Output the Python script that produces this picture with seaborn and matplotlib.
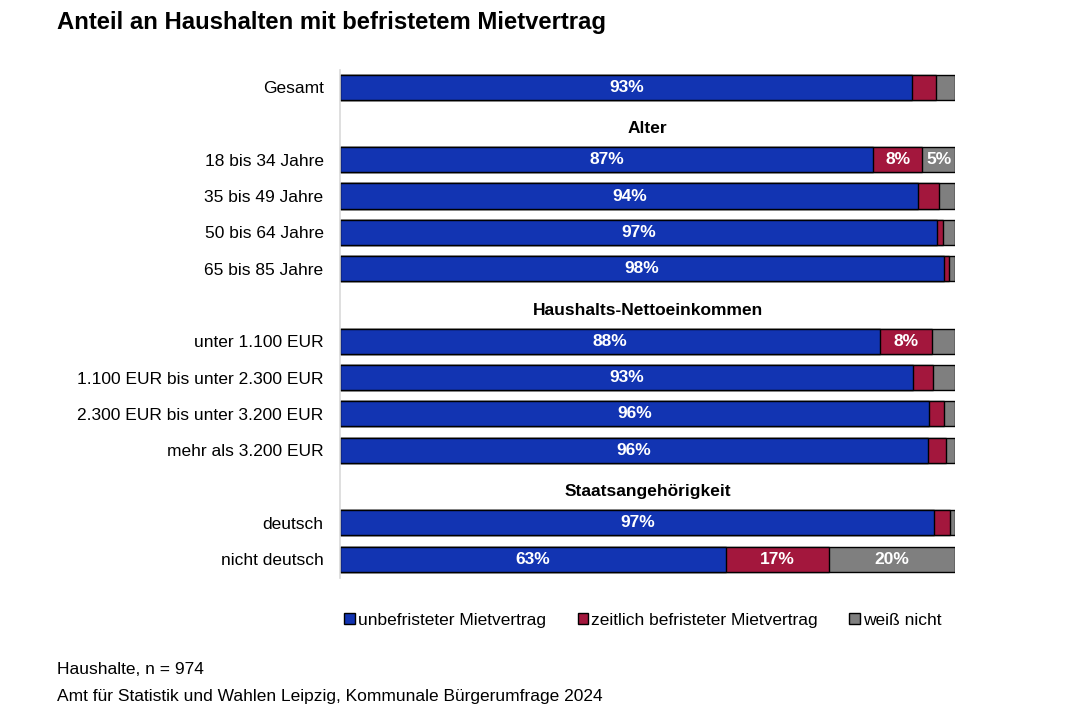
import numpy as np
import pandas as pd
import matplotlib
matplotlib.use('Agg')
import matplotlib.pyplot as plt
from matplotlib.patches import Patch
import seaborn as sns

sns.set_style('white')
plt.rcParams['font.family'] = ['Liberation Sans', 'DejaVu Sans']
plt.rcParams['text.color'] = 'black'
plt.rcParams['ytick.color'] = 'black'
plt.rcParams['ytick.labelcolor'] = 'black'

# ==================== Daten ====================
kategorien = ['Gesamt', '18 bis 34 Jahre', '35 bis 49 Jahre', '50 bis 64 Jahre', '65 bis 85 Jahre',
              'unter 1.100 EUR', '1.100 EUR bis unter 2.300 EUR', '2.300 EUR bis unter 3.200 EUR',
              'mehr als 3.200 EUR', 'deutsch', 'nicht deutsch']
unbefristet = [93.0, 86.7, 94.0, 97.0, 98.2, 87.8, 93.2, 95.8, 95.6, 96.6, 62.7]
befristet = [3.9, 7.9, 3.4, 1.0, 0.7, 8.4, 3.2, 2.4, 2.9, 2.6, 16.8]
weiss_nicht = [3.1, 5.4, 2.6, 2.0, 1.1, 3.8, 3.6, 1.8, 1.5, 0.8, 20.5]
zeilen = [0, 2, 3, 4, 5, 7, 8, 9, 10, 12, 13]

gruppen = ['Alter', 'Haushalts-Nettoeinkommen', 'Staatsangehörigkeit']
gruppen_zeilen = [1, 6, 11]

legende = ['unbefristeter Mietvertrag', 'zeitlich befristeter Mietvertrag', 'weiß nicht']
farben = ['#1234B2', '#A3173D', '#7F7F7F']

df = pd.DataFrame({'kat': kategorien, 'pos': zeilen, 'u': unbefristet,
                   'b': befristet, 'w': weiss_nicht})
df['ub'] = df['u'] + df['b']
df['ges'] = df['ub'] + df['w']

# ==================== Grafik ====================
fig = plt.figure(figsize=(10.7, 7.13), dpi=100)
ax = fig.add_axes([0.318, 0.1893, 0.5748, 0.7125])

# gestapelt: von hinten nach vorne zeichnen
for spalte, farbe in zip(['ges', 'ub', 'u'], farben[::-1]):
    sns.barplot(data=df, x=spalte, y='pos', orient='h', native_scale=True,
                color=farbe, saturation=1, width=0.69, edgecolor='black',
                linewidth=1.0, ax=ax)

# Beschriftungen in den Balken (ab 5 %)
for _, r in df.iterrows():
    for start, wert in [(0, r['u']), (r['u'], r['b']), (r['ub'], r['w'])]:
        if wert >= 5:
            ax.text(start + wert / 2, r['pos'], f"{wert:.0f}%", ha='center', va='center',
                    color='white', fontsize=12.5, fontweight='bold')

for g, p in zip(gruppen, gruppen_zeilen):
    ax.text(50, p + 0.15, g, ha='center', va='center', fontsize=12.5, fontweight='bold')

ax.set_xlim(0, 100)
ax.set_ylim(13.52, -0.47)
ax.set_yticks(zeilen)
ax.set_yticklabels(kategorien, fontsize=12.5)
ax.tick_params(axis='y', length=0, pad=12)
ax.set_xticks([])
ax.set_xlabel('')
ax.set_ylabel('')
for s in ['top', 'right', 'bottom']:
    ax.spines[s].set_visible(False)
ax.spines['left'].set_color('#d9d9d9')
ax.spines['left'].set_linewidth(1.2)

handles = [Patch(facecolor=f, edgecolor='black', linewidth=1.0) for f in farben]
fig.legend(handles, legende, loc='center', bbox_to_anchor=(0.601, 0.130), ncol=3,
           frameon=False, fontsize=12.5, handlelength=0.6, handleheight=0.6,
           handletextpad=0.2, columnspacing=1.8)

fig.text(57 / 1070, 1 - 23 / 713, 'Anteil an Haushalten mit befristetem Mietvertrag',
         fontsize=17.2, fontweight='bold', va='center', ha='left')
fig.text(57 / 1070, 1 - 670 / 713, 'Haushalte, n = 974', fontsize=12.5, va='center')
fig.text(57 / 1070, 1 - 697 / 713, 'Amt für Statistik und Wahlen Leipzig, Kommunale Bürgerumfrage 2024',
         fontsize=12.5, va='center')

fig.savefig('out.png', dpi=100)
